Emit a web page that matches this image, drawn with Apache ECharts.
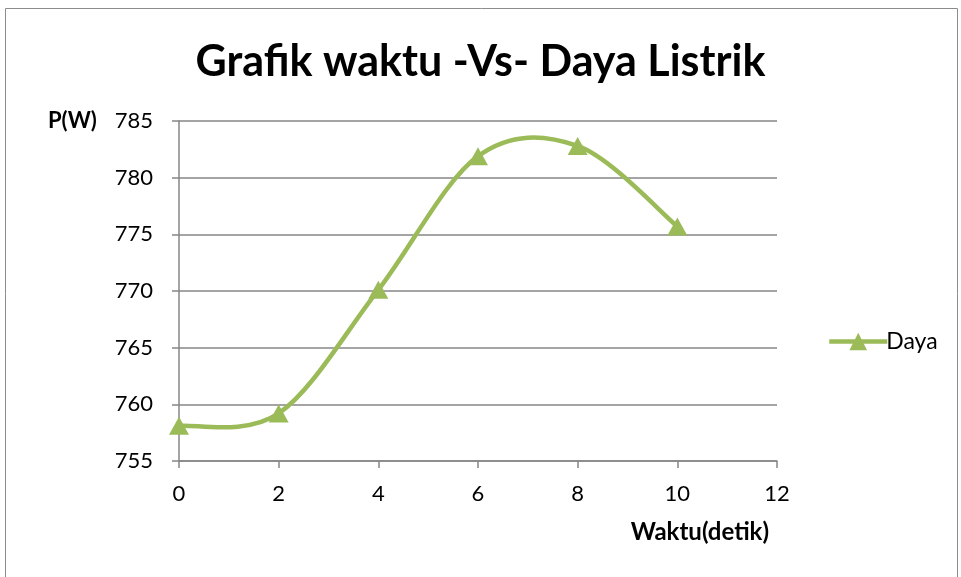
<!DOCTYPE html>
<html>
<head>
<meta charset="utf-8">
<script src="https://cdn.jsdelivr.net/npm/echarts@6/dist/echarts.min.js"></script>
<style>
  html, body { margin: 0; padding: 0; background: #fff; }
  #chart { width: 961px; height: 577px; }
</style>
</head>
<body>
<div id="chart"></div>
<script>
  // data
  var waktu = [0, 2, 4, 6, 8, 10]
  var daya = [758.1, 759.2, 770.1, 781.9, 782.8, 775.7]
  var seriesName = 'Daya'
  var green = '#9bbb59'

  var points = []
  for (var i = 0; i < waktu.length; i++) {
    points.push([waktu[i], daya[i]])
  }

  // spreadsheet-style smoothed segment between point i and i+1 (control points from neighbours)
  function renderSegment (params, api) {
    var i = params.dataIndex
    if (i >= points.length - 1) return null
    var p = []
    for (var j = 0; j < points.length; j++) p.push(api.coord(points[j]))
    var p0 = p[Math.max(i - 1, 0)]
    var p1 = p[i]
    var p2 = p[i + 1]
    var p3 = p[Math.min(i + 2, p.length - 1)]
    return {
      type: 'bezierCurve',
      shape: {
        x1: p1[0], y1: p1[1],
        cpx1: p1[0] + (p2[0] - p0[0]) / 6, cpy1: p1[1] + (p2[1] - p0[1]) / 6,
        cpx2: p2[0] - (p3[0] - p1[0]) / 6, cpy2: p2[1] - (p3[1] - p1[1]) / 6,
        x2: p2[0], y2: p2[1]
      },
      style: { fill: null, stroke: green, lineWidth: 4.5, lineCap: 'round' }
    }
  }

  var font = 'Lato, "Open Sans", sans-serif'
  var chart = echarts.init(document.getElementById('chart'))
  chart.setOption({
    animation: false,
    title: {
      text: 'Grafik waktu -Vs- Daya Listrik',
      left: 'center',
      top: 36,
      textStyle: { fontFamily: font, fontSize: 43, fontWeight: 'bold', color: '#000' }
    },
    graphic: [{
      type: 'rect',
      shape: { x: 5.5, y: 8.5, width: 952, height: 600 },
      style: { fill: 'none', stroke: '#8c8c8c', lineWidth: 1 }
    }],
    legend: {
      orient: 'vertical',
      left: 822,
      top: 325,
      itemWidth: 58,
      itemHeight: 22,
      itemGap: 6,
      textStyle: { fontFamily: font, fontSize: 23, color: '#000', padding: [0, 0, 0, -6] },
      lineStyle: { color: green, width: 4.5, opacity: 1 },
      data: [{ name: seriesName, lineStyle: { color: green, width: 4.5, opacity: 1 } }]
    },
    grid: { left: 179, right: 184, top: 121, bottom: 116 },
    xAxis: {
      type: 'value',
      min: 0,
      max: 12,
      interval: 2,
      name: 'Waktu(detik)',
      nameLocation: 'end',
      nameGap: 0,
      nameTextStyle: {
        fontFamily: font, fontSize: 24, fontWeight: 'bold', color: '#000',
        align: 'right', verticalAlign: 'top', padding: [59, 8, 0, 0]
      },
      axisLine: { lineStyle: { color: '#868686', width: 1.5 } },
      axisTick: { show: true, length: 7, lineStyle: { color: '#868686', width: 1.5 } },
      axisLabel: { fontFamily: font, fontSize: 22, color: '#000', margin: 22 },
      splitLine: { show: false }
    },
    yAxis: {
      type: 'value',
      min: 755,
      max: 785,
      interval: 5,
      name: 'P(W)',
      nameLocation: 'end',
      nameGap: 0,
      nameTextStyle: {
        fontFamily: font, fontSize: 22, fontWeight: 'bold', color: '#000',
        align: 'left', verticalAlign: 'middle', padding: [0, 0, 0, -131]
      },
      axisLine: { show: true, lineStyle: { color: '#868686', width: 1.5 } },
      axisTick: { show: true, length: 7, lineStyle: { color: '#868686', width: 1.5 } },
      axisLabel: { fontFamily: font, fontSize: 22, color: '#000', margin: 26 },
      splitLine: { lineStyle: { color: '#868686', width: 1.5 } }
    },
    series: [{
      name: 'smooth',
      type: 'custom',
      data: points,
      encode: { x: 0, y: 1 },
      renderItem: renderSegment,
      silent: true,
      z: 2
    }, {
      name: seriesName,
      type: 'line',
      data: points,
      symbol: 'triangle',
      symbolSize: [20, 18],
      itemStyle: { color: green },
      lineStyle: { color: green, width: 4.5, opacity: 0 },
      z: 3
    }]
  })
</script>
</body>
</html>
